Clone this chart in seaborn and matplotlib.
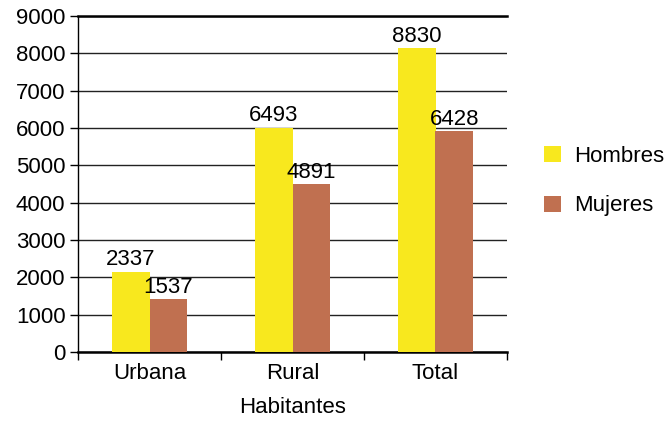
import pandas as pd
import matplotlib
matplotlib.use("Agg")
import matplotlib.pyplot as plt
import seaborn as sns

# Data (bar heights differ from printed labels in the source)
categories = ["Urbana", "Rural", "Total"]
hombres_bar = [2150, 6010, 8140]
mujeres_bar = [1420, 4500, 5920]
hombres_label = ["2337", "6493", "8830"]
mujeres_label = ["1537", "4891", "6428"]
series = ["Hombres", "Mujeres"]
colors = ["#F8E81E", "#C07050"]

df = pd.DataFrame({
    "Habitantes": categories * 2,
    "valor": hombres_bar + mujeres_bar,
    "sexo": [series[0]] * 3 + [series[1]] * 3,
})

sns.set_theme(style="white")
plt.rcParams["font.family"] = ["Liberation Sans", "DejaVu Sans"]
plt.rcParams["text.color"] = "black"
plt.rcParams["axes.labelcolor"] = "black"

FS = 16

fig = plt.figure(figsize=(6.72, 4.21), dpi=100)
ax = fig.add_axes([78 / 672, 1 - 352 / 421, (507 - 78) / 672, (352 - 16) / 421])

sns.barplot(data=df, x="Habitantes", y="valor", hue="sexo", palette=colors,
            width=0.53, saturation=1, linewidth=0, ax=ax, zorder=3)

ax.set_ylim(0, 9000)
ax.set_xlim(-0.5, 2.5)
ax.set_yticks(range(0, 9001, 1000))
ax.yaxis.grid(True, color="#222222", linewidth=1.0)
ax.set_axisbelow(True)

# value labels
labels = [hombres_label, mujeres_label]
for cont, labs in zip(ax.containers, labels):
    ax.bar_label(cont, labels=labs, padding=1, fontsize=FS, color="black")

ax.spines["right"].set_visible(False)
ax.spines["top"].set_linewidth(1.8)
ax.spines["bottom"].set_linewidth(1.8)
ax.spines["left"].set_linewidth(1.0)
for s in ["top", "bottom", "left"]:
    ax.spines[s].set_color("black")

ax.tick_params(axis="y", which="major", direction="out", length=6, width=1,
               labelsize=FS, colors="black", pad=3, left=True)
ax.tick_params(axis="x", which="major", length=0, labelsize=FS, labelcolor="black", pad=8)
ax.set_xticks([-0.5, 0.5, 1.5, 2.5], minor=True)
ax.tick_params(axis="x", which="minor", direction="out", length=6, width=1,
               bottom=True, color="black")

ax.set_ylabel("")
ax.set_xlabel("Habitantes", fontsize=FS, labelpad=9, color="black")

handles, _ = ax.get_legend_handles_labels()
ax.legend(handles, series, loc="center left", bbox_to_anchor=(544 / 672, 1 - 181 / 421),
          bbox_transform=fig.transFigure, frameon=False, fontsize=FS,
          handlelength=0.75, handleheight=0.75, handletextpad=0.6, labelspacing=1.3,
          borderaxespad=0, borderpad=0)

fig.savefig("out.png", dpi=100)
